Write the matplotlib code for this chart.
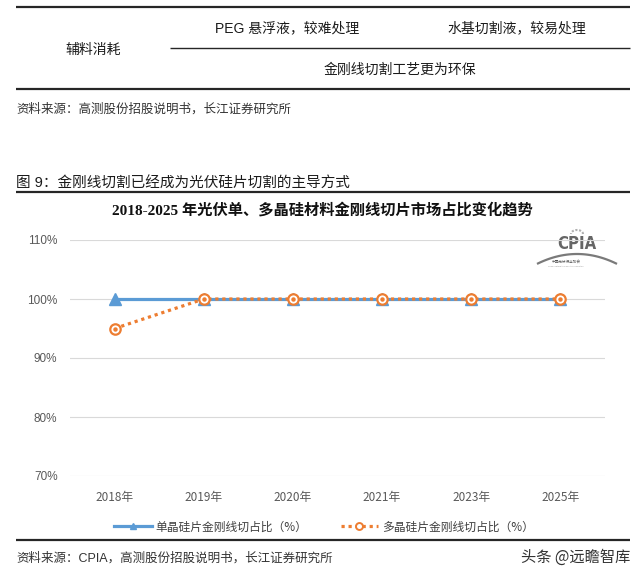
import matplotlib
matplotlib.use('Agg')
import matplotlib.pyplot as plt
import numpy as np
from matplotlib.lines import Line2D

CJK = 'Noto Sans CJK SC'
SANS = ['Liberation Sans', CJK]
SERIF = ['Liberation Serif', CJK]
plt.rcParams['font.family'] = [CJK, 'DejaVu Sans']

# ── data ──────────────────────────────────────────────────────────────────────
years = ['2018年', '2019年', '2020年', '2021年', '2023年', '2025年']
mono_share = [100, 100, 100, 100, 100, 100]    # 单晶硅片金刚线切占比 (%)
multi_share = [95, 100, 100, 100, 100, 100]    # 多晶硅片金刚线切占比 (%)
y_ticks = [70, 80, 90, 100, 110]

mono_label = '单晶硅片金刚线切占比（%）'
multi_label = '多晶硅片金刚线切占比（%）'
title = '2018-2025 年光伏单、多晶硅材料金刚线切片市场占比变化趋势'

BLUE = '#5b9bd5'
ORANGE = '#ed7d31'
W, H = 640, 577

fig = plt.figure(figsize=(W / 100, H / 100), dpi=100)

# ── page around the chart (pixel coordinates) ────────────────────────────────
page = fig.add_axes([0, 0, 1, 1])
page.set_xlim(0, W)
page.set_ylim(H, 0)
page.axis('off')


def rule(y, x0=16, x1=630, lw=1.6):
    page.plot([x0, x1], [y, y], color='#262626', lw=lw, solid_capstyle='butt')


rule(7)
rule(48, x0=170, lw=1.0)
rule(89)
rule(192)
rule(540)

page.text(287, 28, 'PEG 悬浮液，较难处理', family=SANS, fontsize=10,
          ha='center', va='center', color='#1a1a1a')
page.text(517, 28, '水基切割液，较易处理', fontsize=10,
          ha='center', va='center', color='#1a1a1a')
page.text(93, 50, '辅料消耗', fontsize=10, ha='center', va='center', color='#1a1a1a')
page.text(400, 70, '金刚线切割工艺更为环保', fontsize=10,
          ha='center', va='center', color='#1a1a1a')
page.text(16, 109, '资料来源：高测股份招股说明书，长江证券研究所', fontsize=9,
          ha='left', va='center', color='#333333')
page.text(16, 183, '图 9：金刚线切割已经成为光伏硅片切割的主导方式',
          family=SANS, fontsize=10.5, ha='left', va='center', color='#1a1a1a')
page.text(322, 210, title, family=SERIF, fontsize=11, fontweight='bold',
          ha='center', va='center', color='#111111')
page.text(16, 558, '资料来源：CPIA，高测股份招股说明书，长江证券研究所',
          family=SANS, fontsize=9, ha='left', va='center', color='#333333')
page.text(630, 557, '头条 @远瞻智库', fontsize=11, ha='right', va='center',
          color='#333333')

# CPIA logo
page.text(577, 244, 'CPIA', family=['DejaVu Sans'], fontstretch='condensed',
          fontsize=12, fontweight='bold', color='#666666', ha='center',
          va='center')
xs = np.linspace(538, 616, 60)
page.plot(xs, 254 + 0.0062 * (xs - 577) ** 2, color='#7a7a7a', lw=1.6)
t = np.linspace(0, np.pi, 30)
page.plot(577 + 6 * np.cos(t), 234 - 4 * np.sin(t), color='#b0b0b0', lw=1.5,
          ls=(0, (1, 0.8)))
page.text(566, 262, '中国光伏行业协会', fontsize=2.6, color='#555555',
          ha='center', va='center')
page.text(566, 266, 'China Photovoltaic Industry Association', fontsize=1.4,
          color='#999999', ha='center', va='center')

# ── chart ─────────────────────────────────────────────────────────────────────
ax = fig.add_axes([70 / W, 1 - 476 / H, (605 - 70) / W, (476 - 240) / H])
ax.set_facecolor('none')
x = np.arange(len(years))

ax.plot(x, mono_share, color=BLUE, lw=2.3, marker='^', ms=8, zorder=3)
ax.plot(x, multi_share, color=ORANGE, lw=2.3, ls=(0, (1, 1.2)), marker='o',
        ms=7.5, mfc='white', mec=ORANGE, mew=1.6, zorder=4)
ax.plot(x, multi_share, ls='none', marker='o', ms=2.2, color=ORANGE, zorder=5)

ax.set_xlim(-0.5, len(years) - 0.5)
ax.set_ylim(y_ticks[0], y_ticks[-1])
ax.set_yticks(y_ticks)
ax.set_yticklabels([f'{v}%' for v in y_ticks])
ax.set_xticks(x)
ax.set_xticklabels(years)
ax.tick_params(length=0, colors='#595959', labelsize=8.5)
ax.tick_params(axis='y', pad=9)
ax.tick_params(axis='x', pad=11)
for lab in ax.get_yticklabels():
    lab.set_family(SANS)
    lab.set_fontsize(8.5)
ax.grid(axis='y', color='#d9d9d9', lw=0.8)
ax.set_axisbelow(True)
for s in ax.spines.values():
    s.set_visible(False)

handles = [
    Line2D([], [], color=BLUE, lw=2.3, marker='^', ms=5),
    Line2D([], [], color=ORANGE, lw=2.3, ls=(0, (1, 1.2)), marker='o', ms=5,
           mfc='white', mec=ORANGE, mew=1.4),
]
fig.legend(handles, [mono_label, multi_label], loc='center',
           bbox_to_anchor=(324 / W, 1 - 527 / H), ncol=2, frameon=False,
           fontsize=8.5, handlelength=3.2, handletextpad=0.3,
           columnspacing=2.8, labelcolor='#404040')

fig.savefig('out.png', dpi=100)
